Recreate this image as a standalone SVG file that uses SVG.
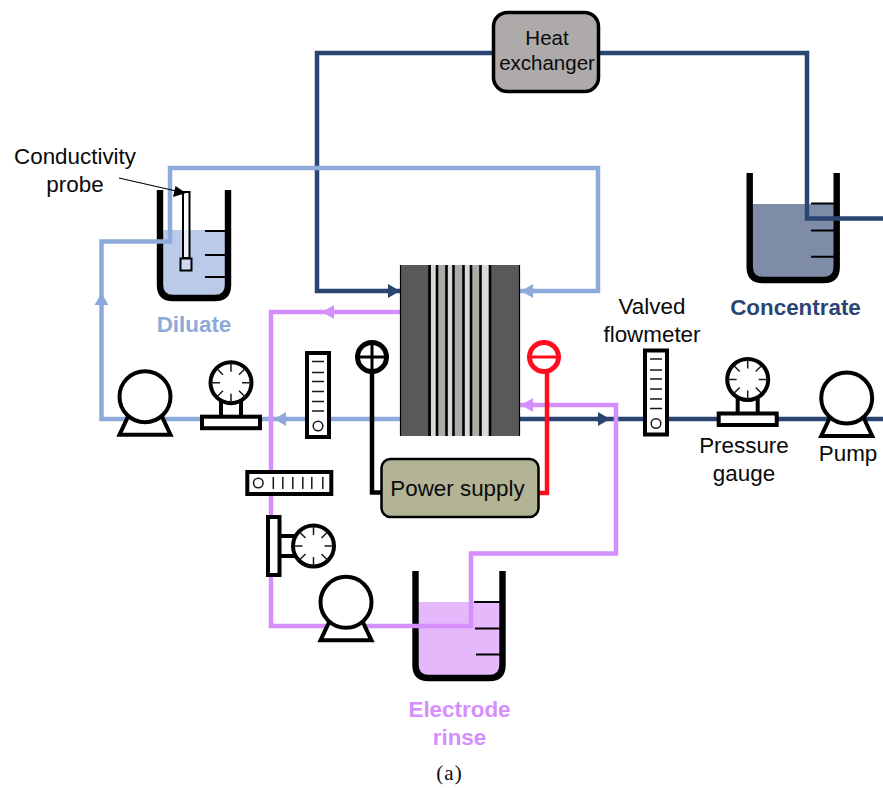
<svg xmlns="http://www.w3.org/2000/svg" width="883" height="788" viewBox="0 0 883 788">
<style>
text{font-family:"Liberation Sans",Arial,sans-serif;font-size:22.400px;fill:#0a0a0a;text-anchor:middle}
.b{font-weight:700}
.wall{fill:none;stroke:#000;stroke-width:6.400}
.tick{stroke:#000;stroke-width:2;fill:none}
.pipe{fill:none;stroke-width:4.500}
.dil{stroke:#8eaadb}.con{stroke:#2b4573}.mag{stroke:#d48ffd}
.dev{fill:#fff;stroke:#000;stroke-width:4}
.thin{stroke:#1a1a1a;stroke-width:1.500;fill:none}
#rinse-tank text{fill:#d48ffd}
</style>
<defs>
<marker id="aD" markerUnits="userSpaceOnUse" markerWidth="15" markerHeight="16" refX="0" refY="8" orient="auto"><path d="M0 1L12 8L0 15Z" fill="#8eaadb"/></marker>
<marker id="aC" markerUnits="userSpaceOnUse" markerWidth="15" markerHeight="16" refX="0" refY="8" orient="auto"><path d="M0 1L12 8L0 15Z" fill="#2b4573"/></marker>
<marker id="aM" markerUnits="userSpaceOnUse" markerWidth="15" markerHeight="16" refX="0" refY="8" orient="auto"><path d="M0 1L12 8L0 15Z" fill="#d48ffd"/></marker>
<g id="pump"><path class="dev" d="M-17 20L-25.500 38H25.500L17 20"/><circle class="dev" r="25.500"/></g>
<g id="gauge">
<path class="dev" d="M-10 18V40H10V18"/><rect class="dev" x="-29" y="34" width="58" height="11.500"/><circle class="dev" r="20.500"/>
<path class="thin" d="M0-20V-11M0 20V11M-20 0H-11M20 0H11M-14-14L-8-8M14-14L8-8M-14 14L-8 8M14 14L8 8"/>
</g>
<g id="meter">
<rect class="dev" x="-11" y="-42" width="22" height="84"/>
<path class="thin" d="M-6-33.500H6M-6-22.500H6M-6-13.500H6M-6-3.500H6M-6 6.500H6M-6 16H6"/><circle class="thin" cy="31" r="4.800"/>
</g>
</defs>
<rect width="883" height="788" fill="#fff"/>

<g id="diluate-tank">
<path d="M163 230H225V288Q225 295 215 295H173Q163 295 163 288Z" fill="#b9cbe8"/>
<path class="wall" d="M160 190V285Q160 298 173 298H215Q228 298 228 285V190"/>
<path class="tick" d="M205 231H225M205 255H225M205 277H225"/>
<text class="b" x="194" y="332" style="fill:#8eaadb">Diluate</text>
</g>
<g id="concentrate-tank">
<path d="M752 204H834V271Q834 278 824 278H762Q752 278 752 271Z" fill="#7f8ca8"/>
<path class="wall" d="M749.700 173V267Q749.700 280 762.700 280H823.700Q836.700 280 836.700 267V173"/>
<path class="tick" d="M811 203.500H834M811 230.500H834M811 256.700H834"/>
<text class="b" x="795.500" y="315" style="fill:#2b4573">Concentrate</text>
</g>
<g id="rinse-tank">
<path d="M418 602H500V669Q500 676 490 676H428Q418 676 418 669Z" fill="#e4b8fb"/>
<path class="wall" d="M415.500 571V665Q415.500 678 428.500 678H489.500Q502.500 678 502.500 665V571"/>
<path class="tick" d="M474 602H500M475 628.500H500M476 654.500H500"/>
<text class="b" x="459.500" y="717">Electrode</text>
<text class="b" x="459.500" y="745">rinse</text>
</g>

<g id="probe">
<rect x="183" y="192" width="6.500" height="66" fill="#fff" fill-opacity=".7" stroke="#000" stroke-width="2"/>
<rect x="180.500" y="258.500" width="11" height="12" fill="#fff" fill-opacity=".3" stroke="#000" stroke-width="2"/>
</g>

<g id="connectors">
<path class="pipe con" d="M492 53H317V291H400"/>
<path class="pipe con" d="M600 53H807V218.500H883"/>
<path class="pipe con" d="M520 419H883"/>
<path class="pipe dil" d="M520 291H598V168H170V241.500H101.500V419H400"/>
<path class="pipe mag" d="M400 312H271V626H471V553.500H616V405H520"/>
<path d="M372 372V492.500H381" fill="none" stroke="#000" stroke-width="4.500"/>
<path d="M547 372V493H539" fill="none" stroke="#ff0d1f" stroke-width="4.500"/>
<path class="pipe con" d="M387 291H388" style="marker-end:url(#aC)"/>
<path class="pipe con" d="M597 419H598" style="marker-end:url(#aC)"/>
<path class="pipe dil" d="M534 291H533" style="marker-end:url(#aD)"/>
<path class="pipe dil" d="M287 419H286" style="marker-end:url(#aD)"/>
<path class="pipe dil" d="M101.500 306V305" style="marker-end:url(#aD)"/>
<path class="pipe mag" d="M335 312H334" style="marker-end:url(#aM)"/>
<path class="pipe mag" d="M534 405H533" style="marker-end:url(#aM)"/>
</g>

<g id="stack">
<rect x="400" y="265" width="120" height="171" fill="#595959"/>
<rect x="431" y="265" width="60" height="171" fill="#d9d9d9"/>
<rect x="438" y="265" width="8" height="171" fill="#aeaaa6"/>
<rect x="455" y="265" width="8" height="171" fill="#aeaaa6"/>
<rect x="472" y="265" width="8" height="171" fill="#aeaaa6"/>
<path d="M429.500 265V436M437 265V436M446.500 265V436M453.500 265V436M463.500 265V436M471 265V436M480.500 265V436M490 265V436" stroke="#000" stroke-width="2.600" fill="none"/>
<path d="M400.500 265V436M519.500 265V436" stroke="#000" stroke-width="1.200" fill="none"/>
</g>

<g id="heat-exchanger">
<rect x="493.500" y="12.500" width="105" height="79" rx="14" fill="#aeaaaa" stroke="#000" stroke-width="3.500"/>
<text x="547" y="45" style="font-size:20.500px">Heat</text>
<text x="547" y="70" style="font-size:20.500px">exchanger</text>
</g>
<g id="power-supply">
<rect x="381.500" y="459" width="157" height="58" rx="9" fill="#b3b396" stroke="#000" stroke-width="2.500"/>
<text x="457.500" y="496">Power supply</text>
</g>
<g id="plus-terminal"><circle cx="372" cy="357" r="14.500" fill="none" stroke="#000" stroke-width="5"/><path d="M357 357H387M372 342V372" stroke="#000" stroke-width="3"/></g>
<g id="minus-terminal"><circle cx="544" cy="357" r="14.500" fill="none" stroke="#ff0d1f" stroke-width="5"/><path d="M529 357H559" stroke="#ff0d1f" stroke-width="3"/></g>

<g id="diluate-pump"><use href="#pump" x="145" y="396.700"/></g>
<g id="diluate-gauge"><use href="#gauge" x="231" y="382.700"/></g>
<g id="diluate-meter"><use href="#meter" x="318" y="395"/></g>
<g id="concentrate-meter"><use href="#meter" x="656" y="392.500"/></g>
<g id="concentrate-gauge"><use href="#gauge" x="747.700" y="379.500"/><text x="744" y="453">Pressure</text><text x="744" y="481">gauge</text></g>
<g id="concentrate-pump"><use href="#pump" x="846.700" y="398"/><text x="848" y="461">Pump</text></g>
<g id="rinse-meter"><use href="#meter" transform="translate(289.300 483) rotate(90)"/></g>
<g id="rinse-gauge"><use href="#gauge" transform="translate(313.500 546) rotate(90)"/></g>
<g id="rinse-pump"><use href="#pump" x="346" y="602.300"/></g>

<g id="flowmeter-label"><text x="652" y="314">Valved</text><text x="652" y="342">flowmeter</text></g>
<g id="probe-label">
<text x="75" y="164">Conductivity</text><text x="75" y="192">probe</text>
<path d="M119 178L176 191" stroke="#000" stroke-width="1.200" fill="none"/><path d="M186 193L173 197L175.500 186Z" fill="#000"/>
</g>
<text x="449.500" y="780" style="font-family:'Liberation Serif',serif;font-size:21px;letter-spacing:1px">(a)</text>
</svg>
